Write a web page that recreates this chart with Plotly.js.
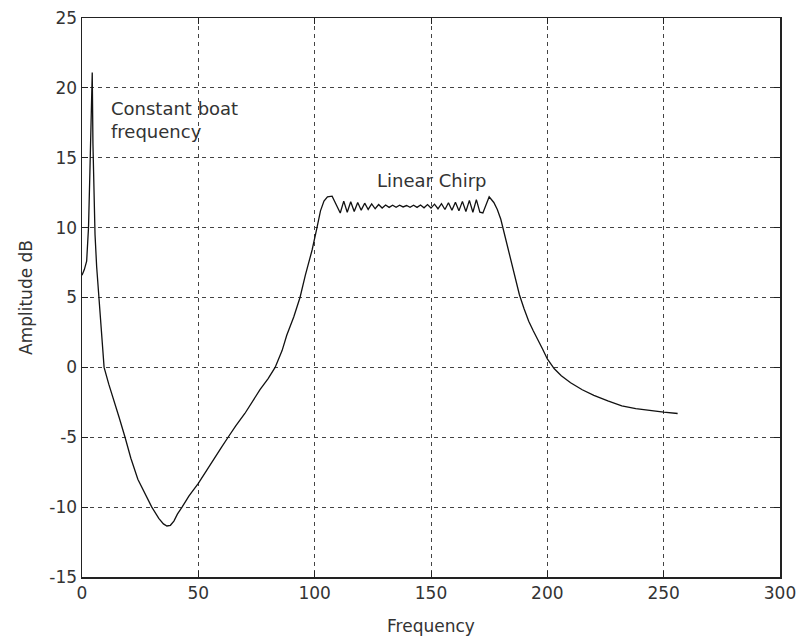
<!DOCTYPE html>
<html>
<head>
<meta charset="utf-8">
<script src="https://cdn.plot.ly/plotly-3.0.1.min.js"></script>
<style>
html,body{margin:0;padding:0;background:#fff;}
#chart{width:802px;height:640px;}
</style>
</head>
<body>
<div id="chart"></div>
<script>
// Frequency axis values
var frequency = [
  0, 1, 2, 2.8, 3.4, 3.9, 4.2, 4.4, 4.7, 5.1, 5.6, 6.3, 7.3, 8.3, 9.5,
  11.5, 13.7, 16, 18.5, 21, 24, 27, 30, 33, 35, 36.5, 38, 39.5, 41, 43,
  46, 50, 53, 57, 60, 62.8, 66, 70, 73, 76.5, 80, 83, 86, 88, 91, 93.7,
  96, 98.9, 101, 102.5, 104, 105.5, 107.5, 109, 111,
  112.5, 114, 115.5, 117, 118.5, 120, 121.5, 123, 124.5, 126, 127.5, 129,
  130.5, 132, 133.5, 135, 136.5, 138, 139.5, 141, 142.5, 144, 145.5, 147,
  148.5, 150, 151.5, 153, 154.5, 156, 157.5, 159, 160.5, 162, 163.5, 165,
  166.5, 168, 169.5, 171, 172.3, 175, 177, 178.5, 180, 182, 184, 186, 188,
  190, 192, 194, 196, 198, 200, 203, 206, 210, 215, 220, 226, 232, 238,
  244, 250, 256
];
// Amplitude (dB) values
var amplitude = [
  6.6, 7.0, 7.6, 10.0, 14.0, 18.0, 19.5, 21.1, 16.0, 12.5, 9.5, 7.2, 5.0, 2.6, 0,
  -1.2, -2.3, -3.6, -5.0, -6.5, -8.0, -9.0, -10.0, -10.8, -11.2, -11.35, -11.3, -11.0, -10.5, -10.0,
  -9.2, -8.3, -7.5, -6.5, -5.7, -5.0, -4.2, -3.3, -2.5, -1.6, -0.8, 0, 1.2, 2.3, 3.6, 5.0,
  6.6, 8.4, 10.0, 11.2, 11.9, 12.2, 12.25, 11.7, 11.05,
  11.9, 11.1, 11.85, 11.15, 11.8, 11.25, 11.75, 11.3, 11.7, 11.35, 11.65, 11.4,
  11.62, 11.45, 11.6, 11.45, 11.6, 11.48, 11.58, 11.45, 11.6, 11.45, 11.62, 11.42,
  11.65, 11.4, 11.68, 11.35, 11.72, 11.3, 11.78, 11.25, 11.82, 11.2, 11.88, 11.15,
  11.95, 11.1, 12.0, 11.1, 11.05, 12.2, 11.8, 11.3, 10.6, 9.2, 7.8, 6.4, 5.2,
  4.2, 3.3, 2.6, 2.0, 1.3, 0.6, -0.1, -0.6, -1.1, -1.6, -2.0, -2.4, -2.75, -2.95,
  -3.1, -3.2, -3.3
];
var xTicks = [0, 50, 100, 150, 200, 250, 300];
var yTicks = [-15, -10, -5, 0, 5, 10, 15, 20, 25];
var labelConstant = "Constant boat<br>frequency";
var labelChirp = "Linear Chirp";

var trace = {
  x: frequency, y: amplitude, type: 'scatter', mode: 'lines',
  line: {color: '#111', width: 1.3}, hoverinfo: 'skip'
};

var fontTick = {family: 'DejaVu Sans, sans-serif', size: 17, color: '#333'};
var fontNote = {family: 'DejaVu Sans, sans-serif', size: 18, color: '#333'};

var layout = {
  width: 802, height: 640,
  margin: {l: 82, r: 22, t: 18, b: 63},
  paper_bgcolor: '#fff', plot_bgcolor: '#fff',
  showlegend: false,
  xaxis: {
    range: [0, 300], tickvals: xTicks, ticktext: xTicks.map(String),
    ticks: 'inside', ticklen: 6, tickcolor: '#222', mirror: 'ticks',
    showline: true, linecolor: '#222', linewidth: 1.5,
    showgrid: true, gridcolor: '#444', gridwidth: 1, griddash: '4px,4px',
    zeroline: false, tickfont: fontTick,
    title: {text: 'Frequency', font: fontTick, standoff: 18}
  },
  yaxis: {
    range: [-15, 25], tickvals: yTicks, ticktext: yTicks.map(String),
    ticks: 'inside', ticklen: 6, tickcolor: '#222', mirror: 'ticks',
    showline: true, linecolor: '#222', linewidth: 1.5,
    showgrid: true, gridcolor: '#444', gridwidth: 1, griddash: '4px,4px',
    zeroline: false, tickfont: fontTick,
    title: {text: 'Amplitude dB', font: fontTick, standoff: 12}
  },
  annotations: [
    {x: 11.5, y: 19.4, xref: 'x', yref: 'y', text: labelConstant, showarrow: false,
     xanchor: 'left', yanchor: 'top', align: 'left', font: fontNote},
    {x: 150.4, y: 13.4, xref: 'x', yref: 'y', text: labelChirp, showarrow: false,
     xanchor: 'center', yanchor: 'middle', font: fontNote}
  ]
};

Plotly.newPlot('chart', [trace], layout, {staticPlot: true, displayModeBar: false});
</script>
</body>
</html>
